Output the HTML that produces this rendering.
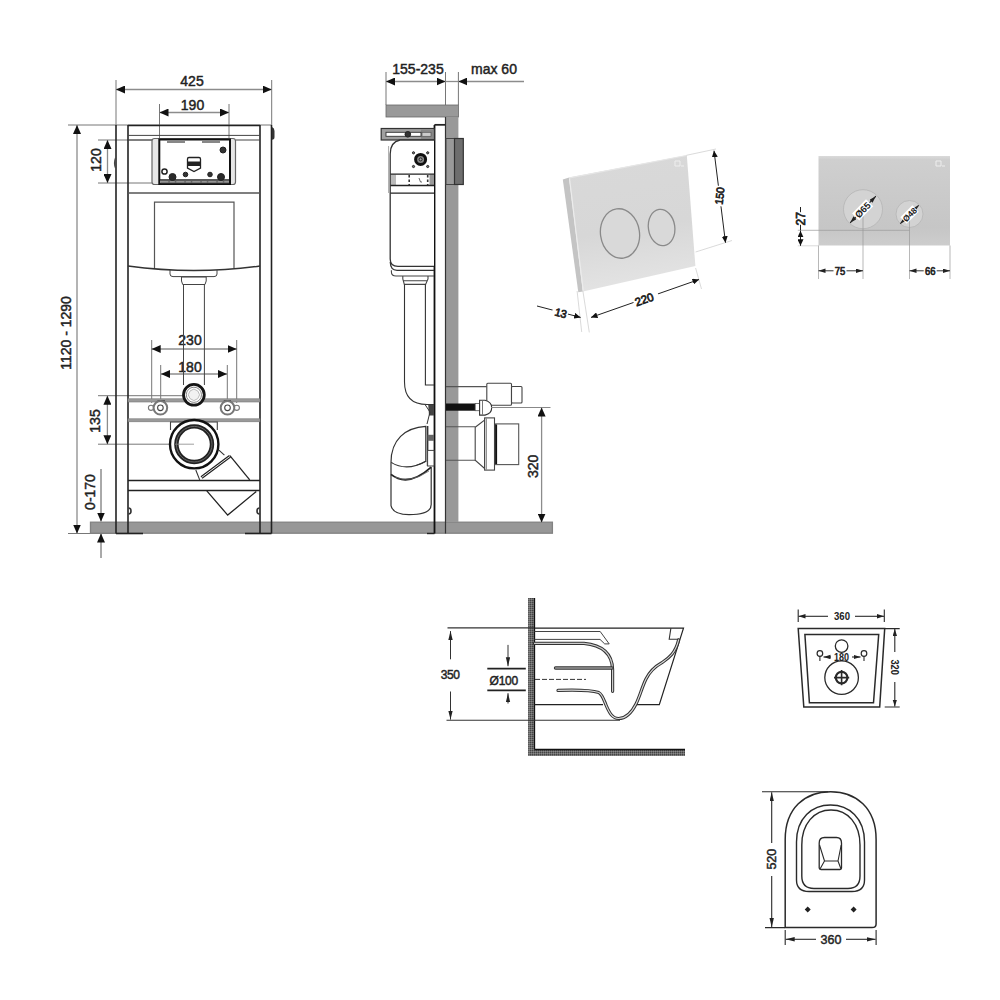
<!DOCTYPE html>
<html><head><meta charset="utf-8">
<style>
html,body{margin:0;padding:0;background:#fff;width:1000px;height:1000px;overflow:hidden}
svg{display:block}
text{font-family:"Liberation Sans",sans-serif;fill:#222;stroke:#222;stroke-width:0.45px}
text[font-weight="bold"]{stroke-width:0}
text.pd{stroke-width:0.7px}
</style></head>
<body>
<svg width="1000" height="1000" viewBox="0 0 1000 1000">
<defs>
<marker id="a" markerUnits="userSpaceOnUse" markerWidth="10" markerHeight="8" refX="9" refY="4" orient="auto-start-reverse"><path d="M0,0 L9,4 L0,8 z" fill="#111"/></marker>
<marker id="s" markerUnits="userSpaceOnUse" markerWidth="7" markerHeight="6" refX="6.5" refY="3" orient="auto-start-reverse"><path d="M0,0 L6.5,3 L0,6 z" fill="#111"/></marker>
<marker id="n" markerUnits="userSpaceOnUse" markerWidth="10" markerHeight="5" refX="9" refY="2.2" orient="auto-start-reverse"><path d="M0,0 L9,2.2 L0,4.4 z" fill="#222"/></marker>
<marker id="m" markerUnits="userSpaceOnUse" markerWidth="8" markerHeight="5" refX="7" refY="2.2" orient="auto-start-reverse"><path d="M0,0 L7,2.2 L0,4.4 z" fill="#222"/></marker>
<pattern id="hatch" patternUnits="userSpaceOnUse" width="2" height="2"><rect width="2" height="2" fill="#6a6a6a"/><rect width="1" height="1" fill="#444"/><rect x="1" y="1" width="1" height="1" fill="#888"/></pattern>
</defs>
<rect width="1000" height="1000" fill="#fff"/>

<!-- ============ FRONT VIEW ============ -->
<g id="front" fill="none" stroke="#222" stroke-width="1">
  <!-- dims -->
  <g stroke="#777" stroke-width="1">
    <line x1="116" y1="80" x2="116" y2="125"/>
    <line x1="271.7" y1="80" x2="271.7" y2="125"/>
    <line x1="159.5" y1="104" x2="159.5" y2="139"/>
    <line x1="229" y1="104" x2="229" y2="139"/>
    <line x1="68" y1="125" x2="271.7" y2="125"/>
    <line x1="68" y1="533.5" x2="118" y2="533.5"/>
    <line x1="98" y1="140" x2="152" y2="140"/>
    <line x1="98" y1="183" x2="152" y2="183"/>
    <line x1="98" y1="395.7" x2="194" y2="395.7"/>
    <line x1="98" y1="444.2" x2="194" y2="444.2"/>
    <line x1="151.7" y1="340" x2="151.7" y2="403"/>
    <line x1="236.7" y1="340" x2="236.7" y2="403"/>
    <line x1="160.7" y1="365" x2="160.7" y2="403"/>
    <line x1="227.3" y1="365" x2="227.3" y2="403"/>
  </g>
  <g stroke="#8c8c8c" stroke-width="1.3">
    <line x1="116" y1="89.5" x2="271.7" y2="89.5" marker-start="url(#a)" marker-end="url(#a)"/>
    <line x1="159.5" y1="112.5" x2="229" y2="112.5" marker-start="url(#a)" marker-end="url(#a)"/>
    <line x1="77" y1="125" x2="77" y2="533.5" marker-start="url(#a)" marker-end="url(#a)"/>
    <line x1="107.5" y1="140" x2="107.5" y2="183" marker-start="url(#a)" marker-end="url(#a)"/>
    <line x1="107.4" y1="395.7" x2="107.4" y2="444.2" marker-start="url(#a)" marker-end="url(#a)"/>
    <line x1="151.7" y1="349" x2="236.7" y2="349" stroke="#555" stroke-width="1" marker-start="url(#a)" marker-end="url(#a)"/>
    <line x1="161" y1="374" x2="227" y2="374" stroke="#555" stroke-width="1" marker-start="url(#a)" marker-end="url(#a)"/>
    <line x1="101" y1="469" x2="101" y2="521.5" stroke="#555" stroke-width="1" marker-end="url(#a)"/>
    <line x1="101" y1="558" x2="101" y2="533.6" stroke="#555" stroke-width="1" marker-end="url(#a)"/>
  </g>
  <g stroke="none" font-size="14">
    <text x="192" y="86" text-anchor="middle">425</text>
    <text x="192.5" y="110" text-anchor="middle">190</text>
    <text x="190" y="345" text-anchor="middle">230</text>
    <text x="190" y="371.5" text-anchor="middle">180</text>
    <text transform="translate(101,160) rotate(-90)" text-anchor="middle">120</text>
    <text transform="translate(100,421) rotate(-90)" text-anchor="middle">135</text>
    <text transform="translate(71,333) rotate(-90)" text-anchor="middle">1120 - 1290</text>
    <text transform="translate(95,492) rotate(-90)" text-anchor="middle">0-170</text>
  </g>

  <!-- floor -->
  <rect x="90.5" y="522.2" width="461.9" height="11" fill="#979797" stroke="#828282" stroke-width="1.3"/>

  <!-- frame legs -->
  <g stroke="#222" stroke-width="1.6">
    <line x1="116" y1="125" x2="116" y2="533.5"/>
    <line x1="128" y1="125" x2="128" y2="533.5"/>
    <line x1="260" y1="125" x2="260" y2="533.5"/>
    <line x1="271.5" y1="125" x2="271.5" y2="533.5"/>
    <line x1="128" y1="125.5" x2="260" y2="125.5"/>
    <line x1="116" y1="533.5" x2="143" y2="533.5"/>
    <line x1="245" y1="533.5" x2="271.5" y2="533.5"/>
  </g>
  <line x1="128" y1="135.4" x2="260" y2="135.4" stroke="#444"/>
  <path d="M272,127 Q274.5,128 274.5,131 V137 Q274.5,139.7 272,139.7 Z" fill="#333" stroke="none"/>
  <path d="M115.5,158 Q113.5,163 115.5,168" stroke="#444" stroke-width="1.2"/>
  <!-- tank -->
  <path d="M128,140 H152 M236,140 H260" stroke="#444" stroke-width="1.2"/>
  <path d="M128,193 H260" stroke="#555" stroke-width="1.5"/>
  <path d="M128,266 Q194,275 260,266" stroke="#333" stroke-width="1.3"/>
  <path d="M154.5,268 V202.2 H234 V268" stroke="#555" stroke-width="1.2"/>
  <path d="M170,270 V274 Q170,276.6 173,276.6 H214 Q217,276.6 217,274 V270" stroke="#444"/>
  <path d="M181.5,277 H206.2 V281 L205,284.5 H182.7 L181.5,281 Z" stroke="#444"/>
  <path d="M183.5,284.5 V385 M204.4,284.5 V385" stroke="#444"/>

  <!-- actuator panel -->
  <rect x="152" y="138.5" width="83.5" height="46" rx="2.5" fill="#e6e6e6" stroke="#666" stroke-width="1.2"/>
  <rect x="159.3" y="139.5" width="70.7" height="44.5" fill="#fff" stroke="#111" stroke-width="2"/>
  <path d="M167,142 H185 M202,142 H220" stroke="#888" stroke-width="1.8"/>
  <rect x="160.3" y="180.3" width="68.7" height="3" fill="#666" stroke="none"/>
  <path d="M160.3,181.8 H229" stroke="#bbb" stroke-width="0.8" stroke-dasharray="8,1.5,5,1.5"/>
  <line x1="160" y1="179.8" x2="229.5" y2="179.8" stroke="#222" stroke-width="1.3"/>
  <circle cx="164.5" cy="171.5" r="2.6" stroke="#222" stroke-width="1.5"/>
  <circle cx="172.5" cy="177" r="3.5" fill="#2a2a2a"/>
  <circle cx="185.5" cy="174.5" r="2.3" fill="#333"/>
  <circle cx="210" cy="174.5" r="2.3" fill="#333"/>
  <circle cx="221" cy="177" r="3.5" fill="#2a2a2a"/>
  <circle cx="223" cy="150" r="3" fill="#333"/>
  <path d="M187.5,159 Q187.5,157.5 189,157.5 H199 Q200.5,157.5 200.5,159 V168 L194,171.5 L187.5,168 Z" fill="#fff" stroke="#222" stroke-width="1.3"/>
  <rect x="187.5" y="162" width="13" height="3.5" fill="#222"/>
  <circle cx="128.5" cy="160" r="0" />

  <!-- rails -->
  <rect x="128" y="398.8" width="132" height="3.2" fill="#9a9a9a" stroke="#777" stroke-width="0.6"/>
  <rect x="128" y="418.8" width="132" height="3" fill="#9a9a9a" stroke="#777" stroke-width="0.6"/>
  <line x1="128" y1="480.5" x2="260" y2="480.5" stroke="#222" stroke-width="1.5"/>
  <line x1="128" y1="490.4" x2="260" y2="490.4" stroke="#222" stroke-width="1.5"/>
  <path d="M157.6,400.8 H164.8 M223.8,400.8 H231" stroke="#333" stroke-width="1.2"/>

  <!-- pipe connector -->
  <circle cx="193.9" cy="394.8" r="10.4" fill="#fff" stroke="#151515" stroke-width="2.8"/>
  <circle cx="193.9" cy="394.8" r="7.6" stroke="#888" stroke-width="1"/>
  <path d="M190,391 L193.9,389 L197.8,391 L199.6,394.8 L197.8,398.6 L193.9,400.6 L190,398.6 L188.2,394.8 Z" stroke="#bbb" stroke-width="1" fill="#f2f2f2"/>
  <!-- bolts -->
  <circle cx="151" cy="407.8" r="2.6" fill="#fff" stroke="#777" stroke-width="1.1"/>
  <circle cx="160.4" cy="407.8" r="6.8" fill="#fff" stroke="#777" stroke-width="2"/>
  <circle cx="160.4" cy="407.8" r="2.8" stroke="#444" stroke-width="1.1"/>
  <circle cx="236.8" cy="407.8" r="2.6" fill="#fff" stroke="#777" stroke-width="1.1"/>
  <circle cx="227.5" cy="407.8" r="6.8" fill="#fff" stroke="#777" stroke-width="2"/>
  <circle cx="227.5" cy="407.8" r="2.8" stroke="#444" stroke-width="1.1"/>

  <!-- diagonal outlet -->
  <path d="M195.8,470 L199.7,479.9 M218.9,450.2 L224.4,455.2" stroke="#333" stroke-width="1.1"/>
  <path d="M201.5,477.5 L230,456.3" stroke="#222" stroke-width="3.2"/>
  <path d="M201.5,477.5 L230,456.3" stroke="#eee" stroke-width="1"/>
  <path d="M229.9,455.7 L249.7,479.9" stroke="#222" stroke-width="1.3"/>
  <path d="M206.8,490.9 L227.7,515.1 L256.3,491.5" stroke="#222" stroke-width="1.3"/>
  <path d="M170.5,430 V422 H217.3 V430" stroke="#444" stroke-width="1.1"/>
  <!-- waste circle -->
  <circle cx="194.2" cy="444.2" r="24.2" fill="#fff" stroke="#111" stroke-width="2.4"/>
  <circle cx="194.2" cy="444.2" r="17.8" stroke="#222" stroke-width="4.4"/>
  <circle cx="194.2" cy="444.2" r="17.8" stroke="#666" stroke-width="1"/>
  <line x1="175" y1="444.2" x2="194" y2="444.2" stroke="#888" stroke-width="0.8"/>
  <!-- knobs -->
  <path d="M128.5,508 a2.5,3 0 0 1 0,6" stroke="#333" stroke-width="1.6"/>
  <path d="M259.5,508 a2.5,3 0 0 0 0,6" stroke="#333" stroke-width="1.6"/>
</g>

<!-- ============ SIDE VIEW ============ -->
<g id="side" fill="none" stroke="#222">
  <g stroke="#666" stroke-width="0.9">
    <line x1="386" y1="72" x2="386" y2="105"/>
    <line x1="445.5" y1="72" x2="445.5" y2="105"/>
    <line x1="458.4" y1="72" x2="458.4" y2="105"/>
  </g>
  <line x1="386" y1="81.5" x2="445.5" y2="81.5" stroke="#8c8c8c" stroke-width="1.3" marker-start="url(#a)" marker-end="url(#a)"/>
  <line x1="524" y1="81.5" x2="458.4" y2="81.5" stroke="#8c8c8c" stroke-width="1.3" marker-end="url(#a)"/>
  <line x1="445.5" y1="81.5" x2="458.4" y2="81.5" stroke="#8c8c8c" stroke-width="1.3"/>
  <g stroke="none" font-size="14">
    <text x="418" y="74" text-anchor="middle">155-235</text>
    <text x="494" y="74" text-anchor="middle">max 60</text>
  </g>
  <!-- wall -->
  <rect x="386" y="105" width="72.4" height="12" fill="#999" stroke="#666" stroke-width="0.8"/>
  <rect x="445.5" y="117" width="12.9" height="405" fill="#999" stroke="none"/>
  <line x1="445.5" y1="117" x2="445.5" y2="533.5" stroke="#333" stroke-width="1.2"/>
  <!-- panel -->
  <line x1="434.5" y1="125" x2="434.5" y2="533.5" stroke="#111" stroke-width="1.8"/>
  <line x1="434.5" y1="125" x2="445.5" y2="125" stroke="#333"/>
  <line x1="427" y1="533.5" x2="434.5" y2="533.5" stroke="#222" stroke-width="1.4"/>
  <!-- flush plate -->
  <rect x="446" y="138.5" width="8.5" height="46" fill="#9a9a9a" stroke="#444" stroke-width="1"/>
  <rect x="454.5" y="138.5" width="8.8" height="46" fill="#6e6e6e" stroke="#333" stroke-width="1.2"/>
  <!-- top bracket -->
  <rect x="381.2" y="128.5" width="53" height="11.5" fill="#a0a0a0" stroke="#333" stroke-width="1.2"/>
  <rect x="421" y="129.5" width="12.5" height="9.5" fill="#888" stroke="none"/>
  <rect x="386" y="132.3" width="35" height="4" fill="#fff" stroke="#333" stroke-width="0.9"/>
  <rect x="422" y="132.3" width="9" height="4" fill="#ccc" stroke="#555" stroke-width="0.7"/>
  <circle cx="407.8" cy="134.3" r="2.8" fill="#333"/>
  <!-- tank -->
  <path d="M434,140 H400 Q390.2,142 390.2,154 V259 Q390.2,266.4 398,266.4 H434" fill="#fff" stroke="#333" stroke-width="1.3"/>
  <path d="M390.2,262 Q390.5,270.3 397,270.3 H434" stroke="#333" stroke-width="1.2"/>
  <path d="M388.6,146 V193" stroke="#aaa" stroke-width="1"/>
  <path d="M391.4,270.3 V272 Q391.4,276 396,276 H434" stroke="#444" stroke-width="1.1"/>
  <path d="M402.8,276 V279 L404.3,284.4 H425.6 L428,279 V276 M403.3,280.8 H427.5" stroke="#444" stroke-width="1.1"/>
  <circle cx="420.6" cy="159.4" r="5" fill="#888" stroke="#111" stroke-width="3"/>
  <circle cx="420.6" cy="159.4" r="1.5" fill="#aaa"/>
  <g fill="#777"><circle cx="413.5" cy="152.8" r="1.1"/><circle cx="427.7" cy="152.8" r="1.1"/><circle cx="413.5" cy="166.5" r="1.1"/><circle cx="427.7" cy="166.5" r="1.1"/></g>
  <rect x="391" y="174.5" width="5" height="11" fill="#bbb" stroke="none"/>
  <rect x="429.5" y="174.5" width="4.5" height="11" fill="#999" stroke="none"/>
  <path d="M390.5,174.1 H434 M390.5,185.5 H434 M390.5,193.1 H434" stroke="#222" stroke-width="1.3"/>
  <path d="M409.2,175 V185 M427.7,175 V185" stroke="#333" stroke-width="1.6" stroke-dasharray="2.5,2"/>
  <path d="M419,178 L420.5,182 L422,182" stroke="#444" stroke-width="0.8"/>
  <path d="M434.5,124.7 H445.3" stroke="#222" stroke-width="1.5"/>
  <!-- pipe -->
  <path d="M404.5,284.4 V382 Q404.5,404.5 427,404.5 H434 M425.4,284.4 V385 H434" stroke="#333" stroke-width="1.1"/>
  <!-- flush pipe through wall -->
  <path d="M446,386.6 H486.8 M446,426.8 H475.2 M446,460.2 H475.2" stroke="#555" stroke-width="1.1"/>
  <rect x="486.8" y="383.2" width="24.7" height="22" rx="1" fill="#fff" stroke="#444" stroke-width="1.1"/>
  <rect x="511.5" y="386.5" width="10.5" height="16.5" rx="1" fill="#fff" stroke="#444" stroke-width="1.1"/>
  <rect x="446" y="403.5" width="29.5" height="7.2" fill="#111" stroke="none"/>
  <rect x="475.2" y="403.5" width="4.4" height="7.2" fill="#fff" stroke="#555" stroke-width="0.8"/>
  <path d="M479.6,400.3 H485 Q491.7,402 491.7,407.7 Q491.7,413.5 485,415.1 H479.6 Z" fill="#fff" stroke="#333" stroke-width="1.1"/>
  <path d="M482.5,401 V414.5" stroke="#555" stroke-width="0.8"/>
  <!-- waste connector -->
  <path d="M475.2,427.2 L484.6,420 V468.5 L475.2,460.2 Z" fill="#fff" stroke="#444" stroke-width="1.1"/>
  <rect x="484.6" y="417.9" width="9.9" height="52.2" fill="#fff" stroke="#444" stroke-width="1.1"/>
  <path d="M486.3,418.5 V469.5" stroke="#555" stroke-width="0.8"/>
  <rect x="495.6" y="423.9" width="23.1" height="40.7" fill="#fff" stroke="#555" stroke-width="1.1"/>
  <path d="M496.2,424.5 V464" stroke="#111" stroke-width="1.8"/>
  <!-- elbow -->
  <path d="M391,462.4 C391,440 405,427.5 425.8,426.4 V462" fill="#fff" stroke="#333" stroke-width="1.2"/>
  <path d="M427.6,426 V466" stroke="#333" stroke-width="1.6"/>
  <path d="M391,462.4 Q407,472 425.8,461.2" stroke="#333" stroke-width="1.1"/>
  <path d="M391,462.4 V505.6 Q393,514.6 409,514.6 Q431.2,514.6 431.2,504.4 V467.2" fill="#fff" stroke="#333" stroke-width="1.2"/>
  <path d="M391,474.4 Q408,488 431.2,467.2" stroke="#222" stroke-width="1.8"/>
  <path d="M395,477 Q410,484 429,471" stroke="#666" stroke-width="0.8"/>
  <path d="M391,462.4 Q407,472 425.8,461.2" stroke="#333" stroke-width="1.1"/>
  <path d="M428.2,404.8 H434 V415.6 H429 Z" fill="#444" stroke="none"/>
  <path d="M425,404.5 L430,412 L427,424" stroke="#333" stroke-width="1"/>
  <rect x="427.6" y="434.8" width="6.4" height="6" fill="#666" stroke="none"/>
  <rect x="427.6" y="450.4" width="6.4" height="15.6" fill="#fff" stroke="#444" stroke-width="1"/>
  <!-- 320 dim -->
  <line x1="491" y1="407.5" x2="550.5" y2="407.5" stroke="#888" stroke-width="1"/>
  <line x1="541.6" y1="407.5" x2="541.6" y2="522.5" stroke="#8c8c8c" stroke-width="1.3" marker-start="url(#a)" marker-end="url(#a)"/>
  <rect x="526" y="448" width="14" height="36" fill="#fff" stroke="none"/>
  <text transform="translate(537.5,466.4) rotate(-90)" text-anchor="middle" font-size="14" stroke="none">320</text>
</g>

<!-- ============ FLUSH PLATE PERSPECTIVE ============ -->
<g id="plate1">
  <defs>
    <linearGradient id="pg1" x1="0" y1="0" x2="0.15" y2="1">
      <stop offset="0" stop-color="#d9d9d9"/><stop offset="0.6" stop-color="#d7d7d7"/><stop offset="1" stop-color="#e3e3e3"/>
    </linearGradient>
  </defs>
  <polygon points="562.8,179.4 569.1,177.6 582.9,291.5 578.3,292.3" fill="#c4c4c4"/>
  <polygon points="569.1,177.6 686.8,155.2 695.4,266 582.9,291.5" fill="url(#pg1)"/>
  <path d="M569.5,178.5 L583.2,290.5" stroke="#ececec" stroke-width="1.2"/>
  <path d="M569.6,177.8 L686.5,155.5" stroke="#e6e6e6" stroke-width="1.2"/>
  <ellipse cx="620" cy="233.5" rx="19.5" ry="24.8" transform="rotate(-8 620 233.5)" fill="#d9d9d9" stroke="#8a8a8a" stroke-width="1.3"/>
  <ellipse cx="661.6" cy="227.5" rx="13.2" ry="18.2" transform="rotate(-8 661.6 227.5)" fill="#d9d9d9" stroke="#8a8a8a" stroke-width="1.3"/>
  <g stroke="#d0d0d0" stroke-width="0.8" fill="none">
    <line x1="686.4" y1="155.3" x2="716" y2="149"/>
    <line x1="695.6" y1="252" x2="732" y2="240.5"/>
    <line x1="695.6" y1="268" x2="701.5" y2="289"/>
    <line x1="582.9" y1="291" x2="589.3" y2="332.4"/>
    <line x1="577.1" y1="291" x2="581.7" y2="332"/>
  </g>
  <g stroke="#222" stroke-width="1" fill="none">
    <line x1="714" y1="150.7" x2="725.5" y2="242.7" marker-start="url(#s)" marker-end="url(#s)"/>
    <line x1="591" y1="317.4" x2="699" y2="279.5" marker-start="url(#s)" marker-end="url(#s)"/>
    <line x1="537" y1="306" x2="580.6" y2="317.4" marker-end="url(#s)"/>
  </g>
  <rect x="709.5" y="191.5" width="20" height="9" transform="rotate(-83 719.5 196)" fill="#fff"/>
  <text transform="translate(723.5,196.3) rotate(-83)" text-anchor="middle" font-size="11" font-weight="normal" class="pd" textLength="17.5" lengthAdjust="spacingAndGlyphs">150</text>
  <rect x="633" y="292" width="26" height="13" transform="rotate(-19 645 299)" fill="#fff"/>
  <text transform="translate(645.5,303.3) rotate(-19)" text-anchor="middle" font-size="11.5" font-weight="normal" class="pd">220</text>
  <rect x="552" y="306" width="16" height="13" transform="rotate(15 560 313)" fill="#fff"/>
  <text transform="translate(559.8,316.8) rotate(15)" text-anchor="middle" font-size="11" font-weight="normal" class="pd">13</text>
  <path d="M675,161 h5 v5 h-5 z M681,166 h3" stroke="#eee" stroke-width="1" fill="none"/>
</g>

<!-- ============ FLUSH PLATE FRONT ============ -->
<g id="plate2">
  <defs>
    <linearGradient id="pg2" x1="0" y1="0" x2="0" y2="1">
      <stop offset="0" stop-color="#dadada"/><stop offset="0.04" stop-color="#cfcfcf"/><stop offset="0.8" stop-color="#c6c6c6"/><stop offset="1" stop-color="#cdcdcd"/>
    </linearGradient>
  </defs>
  <rect x="818.5" y="156" width="131.5" height="89.5" fill="url(#pg2)"/>
  <circle cx="863" cy="209.2" r="19.5" fill="#d3d3d3" stroke="#b5b5b5" stroke-width="0.8"/>
  <circle cx="909.5" cy="214" r="13.5" fill="#d3d3d3" stroke="#b5b5b5" stroke-width="0.8"/>
  <g stroke="#9a9a9a" stroke-width="0.7" fill="none">
    <line x1="797.8" y1="230.3" x2="909.5" y2="230.3"/>
    <line x1="797.8" y1="245.8" x2="818.5" y2="245.8" stroke="#ccc"/>
    <line x1="818.5" y1="245.5" x2="818.5" y2="279"/>
    <line x1="950" y1="245.5" x2="950" y2="279"/>
    <line x1="863" y1="209.4" x2="863" y2="279"/>
    <line x1="909.5" y1="214" x2="909.5" y2="279"/>
  </g>
  <g transform="rotate(-46 863 209.5)">
    <line x1="844.5" y1="209.5" x2="881.5" y2="209.5" stroke="#222" stroke-width="1" marker-start="url(#m)" marker-end="url(#m)"/>
    <rect x="852.5" y="204.5" width="20" height="10" fill="#fff"/>
    <text x="862.5" y="213" text-anchor="middle" font-size="9.5" font-weight="bold">Ø65</text>
  </g>
  <g transform="rotate(-45 909.5 214.5)">
    <line x1="896.5" y1="214.5" x2="922.5" y2="214.5" stroke="#222" stroke-width="1" marker-start="url(#m)" marker-end="url(#m)"/>
    <rect x="901" y="210" width="17" height="9" fill="#fff"/>
    <text x="909.5" y="217.8" text-anchor="middle" font-size="8.5" font-weight="bold">Ø48</text>
  </g>
  <g stroke="#222" stroke-width="1" fill="none">
    <line x1="800.5" y1="207" x2="800.5" y2="212.2"/>
    <line x1="800.5" y1="224.8" x2="800.5" y2="230.5"/>
    <line x1="800.5" y1="230.8" x2="800.5" y2="245.8" marker-start="url(#s)" marker-end="url(#s)"/>
    <line x1="818.5" y1="270.8" x2="863" y2="270.8" stroke="#333" marker-start="url(#m)" marker-end="url(#m)"/>
    <line x1="909.5" y1="270.8" x2="950" y2="270.8" stroke="#333" marker-start="url(#m)" marker-end="url(#m)"/>
  </g>
  <text transform="translate(804.8,218.8) rotate(-90)" text-anchor="middle" font-size="12" font-weight="normal" class="pd">27</text>
  <rect x="833.5" y="265" width="13" height="11" fill="#fff"/>
  <text x="839.9" y="275" text-anchor="middle" font-size="11" font-weight="normal" class="pd" textLength="10.5" lengthAdjust="spacingAndGlyphs">75</text>
  <rect x="923.7" y="265" width="13" height="11" fill="#fff"/>
  <text x="930.2" y="275" text-anchor="middle" font-size="11" font-weight="normal" class="pd" textLength="10.5" lengthAdjust="spacingAndGlyphs">66</text>
  <path d="M936,161 h5 v5 h-5 z M942,166 h3" stroke="#eee" stroke-width="1" fill="none"/>
</g>

<!-- ============ TOILET SIDE ============ -->
<g id="toilet-side" fill="none" stroke="#222" stroke-width="1">
  <rect x="528.1" y="598" width="6.7" height="158" fill="url(#hatch)" stroke="none"/>
  <rect x="534" y="749.5" width="151" height="6.5" fill="url(#hatch)" stroke="none"/>
  <line x1="534.5" y1="598" x2="534.5" y2="749.5" stroke="#111" stroke-width="1.3"/>
  <line x1="534.5" y1="749.5" x2="685" y2="749.5" stroke="#111" stroke-width="1.3"/>
  <!-- 350 dim -->
  <line x1="447.5" y1="627.9" x2="534" y2="627.9" stroke="#333" stroke-width="1.1"/>
  <line x1="446.5" y1="720.2" x2="620" y2="720.2" stroke="#333" stroke-width="1.1"/>
  <line x1="450.5" y1="659.3" x2="450.5" y2="631.1" stroke="#333" marker-end="url(#n)"/>
  <line x1="450.5" y1="691.5" x2="450.5" y2="719.6" stroke="#333" marker-end="url(#n)"/>
  <text x="450.2" y="678.8" text-anchor="middle" font-size="12" stroke="none" fill="#333" letter-spacing="-0.3">350</text>
  <!-- O100 -->
  <line x1="487.3" y1="668.7" x2="525.8" y2="668.7" stroke="#222" stroke-width="1.7"/>
  <line x1="487.3" y1="690.3" x2="525.8" y2="690.3" stroke="#222" stroke-width="1.7"/>
  <line x1="508" y1="644.9" x2="508" y2="666.2" stroke="#333" marker-end="url(#n)"/>
  <line x1="508" y1="703.5" x2="508" y2="693.2" stroke="#333" marker-end="url(#n)"/>
  <text x="503.7" y="684.6" text-anchor="middle" font-size="12" stroke="none" fill="#333" letter-spacing="-0.3">Ø100</text>
  <line x1="535" y1="679.4" x2="586" y2="679.4" stroke="#333" stroke-dasharray="5,2"/>
  <!-- bowl outline -->
  <path d="M534.5,628.2 H683.5 L659.3,704.7 H637 M603,704.7 H534.5" stroke="#222" stroke-width="1.2"/>
  <path d="M670.9,628.2 L669.2,639.25 H679.1" stroke="#333" stroke-width="1.1"/>
  <!-- rim channels -->
  <path d="M534.5,631.5 H600.2 L609.2,643.9 H604.7 L600,639.4 H534.5" stroke="#444" stroke-width="1"/>
  <path d="M534.5,643.4 H584 Q611.9,646 612.6,669.5 V691.3" stroke="#333" stroke-width="3.2" stroke-linecap="round"/>
  <path d="M534.5,643.4 H584 Q611.9,646 612.6,669.5 V691.3" stroke="#ccc" stroke-width="1.2" stroke-linecap="round"/>
  <path d="M555.5,668 H612" stroke="#333" stroke-width="3.4" stroke-linecap="round"/>
  <path d="M555.5,668 H612" stroke="#999" stroke-width="1.4" stroke-linecap="round"/>
  <path id="bowlc" d="M558,690.4 C575,689.8 592,690.4 598.8,692.6 C602,694 603.5,699 606,705 C609,712 612,718.5 618.6,718.5 C625,718.5 631,714 636,704 C640,696 642,687 646,679 C650,671 655,666.5 661.5,662.9 C667,659 675,655 678.6,639.8" stroke="#333" stroke-width="3.2" stroke-linecap="round"/>
  <path d="M558,690.4 C575,689.8 592,690.4 598.8,692.6 C602,694 603.5,699 606,705 C609,712 612,718.5 618.6,718.5 C625,718.5 631,714 636,704 C640,696 642,687 646,679 C650,671 655,666.5 661.5,662.9 C667,659 675,655 678.6,639.8" stroke="#ddd" stroke-width="1.1" stroke-linecap="round"/>
</g>

<!-- ============ TOILET FRONT ============ -->
<g id="toilet-front" fill="none" stroke="#2a2a2a" stroke-width="1.5">
  <polygon points="798.2,628.6 884.7,628.6 879.7,707 803.8,707"/>
  <polygon points="804.9,634.5 878.7,634.5 873.5,702.8 809.4,702.8"/>
  <circle cx="841.6" cy="646.1" r="6.3" stroke-width="1.3"/>
  <circle cx="841.6" cy="677.6" r="16.8" stroke-width="1.3"/>
  <circle cx="841.6" cy="677.6" r="5.8" stroke-width="2.2"/>
  <path d="M834,677.6 H849.2 M841.6,670 V685.2" stroke-width="1.6"/>
  <circle cx="819.9" cy="653.5" r="2.8" stroke-width="1.2"/>
  <circle cx="864" cy="653.5" r="2.8" stroke-width="1.2"/>
  <path d="M819.9,656.5 V661 M864,656.5 V661" stroke-width="1.1"/>
  <line x1="831" y1="657" x2="823.5" y2="657" stroke-width="1.1" marker-end="url(#m)"/>
  <line x1="852" y1="657" x2="860.5" y2="657" stroke-width="1.1" marker-end="url(#m)"/>
  <text x="841.6" y="661" text-anchor="middle" font-size="10" stroke="none" font-weight="bold" textLength="15" lengthAdjust="spacingAndGlyphs" fill="#333">180</text>
  <!-- 360 -->
  <path d="M798.2,609.5 V622 M884.3,609.5 V622" stroke-width="1.1"/>
  <line x1="828" y1="616.3" x2="798.5" y2="616.3" stroke-width="1.1" marker-end="url(#m)"/>
  <line x1="855" y1="616.3" x2="884" y2="616.3" stroke-width="1.1" marker-end="url(#m)"/>
  <text x="842" y="620.3" text-anchor="middle" font-size="10" stroke="none" font-weight="bold" textLength="16" lengthAdjust="spacingAndGlyphs" fill="#333">360</text>
  <!-- 320 -->
  <path d="M884.7,628.6 H899.7 M884.7,707 H899.7" stroke-width="1.1"/>
  <line x1="894.8" y1="652" x2="894.8" y2="629" stroke-width="1.1" marker-end="url(#m)"/>
  <line x1="894.8" y1="682" x2="894.8" y2="706.6" stroke-width="1.1" marker-end="url(#m)"/>
  <text transform="translate(891.3,667.1) rotate(90)" text-anchor="middle" font-size="10.5" stroke="none" font-weight="bold" textLength="15.4" lengthAdjust="spacingAndGlyphs" fill="#333">320</text>
</g>

<!-- ============ TOILET TOP ============ -->
<g id="toilet-top" fill="none" stroke="#2a2a2a" stroke-width="1.5">
  <path d="M785.2,927.6 V839.4 C785.2,808 805,791.7 830.6,791.7 C856,791.7 876.1,808 876.1,839.4 V924 Q876.1,927.6 872,927.6 Z"/>
  <path d="M796.5,880 V842 C796.5,818 812,805 830.5,805 C849,805 864.5,818 864.5,842 V880 Q864.5,891.5 852,891.5 H809 Q796.5,891.5 796.5,880 Z" stroke-width="1.4"/>
  <path d="M801.8,876 V845 C801.8,824 814,810 831,810 C848,810 860,824 860,845 V876 Q860,888.5 848,888.5 H814 Q801.8,888.5 801.8,876 Z" stroke-width="1.4"/>
  <path d="M824.5,837.5 H836.5 Q841.5,837.5 841.5,843 V868 Q841.5,869.5 840,869.5 H821 Q819.2,869.5 819.2,868 V843 Q819.2,837.5 824.5,837.5 Z" stroke-width="1.3"/>
  <path d="M819.5,845 L824.5,861 H838 L841.2,845 M824.5,861 L820,869 M838,861 L841,869" stroke-width="1.1"/>
  <path d="M807.7,906.6 L810.7,909.6 L807.7,912.6 L804.7,909.6 Z M853.6,906.6 L856.6,909.6 L853.6,912.6 L850.6,909.6 Z" fill="#222" stroke="none"/>
  <!-- 520 -->
  <path d="M762,791.7 H828 M765,927.6 H785" stroke-width="1.1"/>
  <line x1="771.7" y1="843" x2="771.7" y2="792.2" stroke-width="1.1" marker-end="url(#n)"/>
  <line x1="771.7" y1="876" x2="771.7" y2="927.1" stroke-width="1.1" marker-end="url(#n)"/>
  <text transform="translate(776.3,859.2) rotate(-90)" text-anchor="middle" font-size="12.5" stroke="none" fill="#333">520</text>
  <!-- 360 -->
  <path d="M785.2,930 V945 M876.1,930 V945" stroke-width="1.1"/>
  <line x1="816" y1="939.3" x2="785.7" y2="939.3" stroke-width="1.1" marker-end="url(#n)"/>
  <line x1="846" y1="939.3" x2="875.6" y2="939.3" stroke-width="1.1" marker-end="url(#n)"/>
  <text x="831" y="944" text-anchor="middle" font-size="12.5" stroke="none" fill="#333">360</text>
</g>
</svg>
</body></html>
